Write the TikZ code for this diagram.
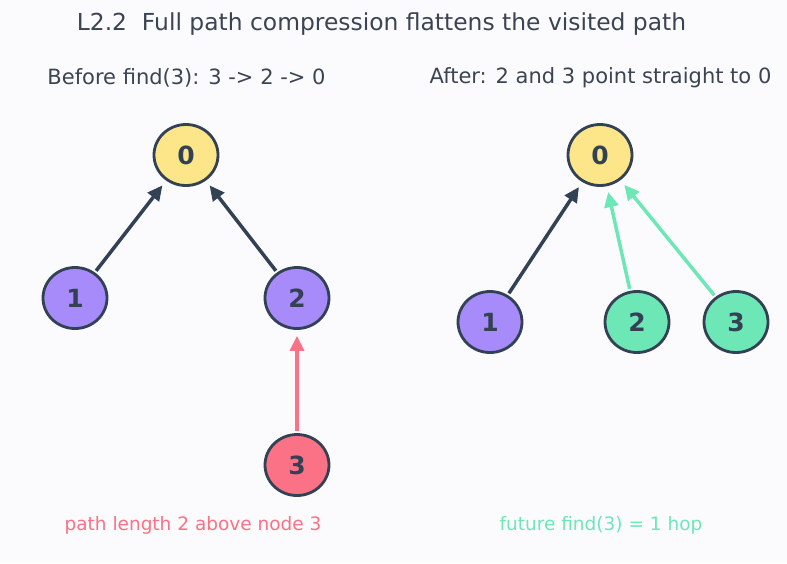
\documentclass[tikz,border=0pt]{standalone}
\usepackage{fontspec}
\setmainfont{DejaVu Sans}
\usetikzlibrary{arrows.meta,shapes.geometric}
\definecolor{bg}{HTML}{FBFBFD}
\definecolor{ink}{HTML}{334155}
\definecolor{txt}{HTML}{3B4452}
\definecolor{yel}{HTML}{FDE68A}
\definecolor{pur}{HTML}{A78BFA}
\definecolor{grn}{HTML}{6EE7B7}
\definecolor{rose}{HTML}{FB7185}
\tikzset{
  vnode/.style={ellipse, draw=ink, line width=2.8pt, minimum width=64pt, minimum height=61pt, inner sep=0pt, font=\fontsize{25}{27}\selectfont\bfseries, text=ink},
  link/.style={line width=3.5pt, shorten <=2pt, shorten >=6pt, -{Triangle[length=15pt,width=14pt]}},
  heading/.style={font=\fontsize{23.4}{26}\selectfont, text=txt},
  sub/.style={font=\fontsize{21}{24}\selectfont, text=txt},
  note/.style={font=\fontsize{18.5}{21}\selectfont},
}
\begin{document}
\begin{tikzpicture}[x=1pt,y=-1pt]
\fill[bg] (0,0) rectangle (787,563);
\useasboundingbox (0,0) rectangle (787,563);
\node[heading] (title) at (381.5,24) {L2.2\ \ Full path compression flattens the visited path};
\node[sub] (lsub) at (186.5,78) {Before find(3): 3 -> 2 -> 0};
\node[sub] (rsub) at (600.5,78) {After: 2 and 3 point straight to 0};
% left
\node[vnode, fill=yel] (a0) at (186,155) {0};
\node[vnode, fill=pur] (a1) at (75,298) {1};
\node[vnode, fill=pur] (a2) at (297,298) {2};
\node[vnode, fill=rose] (a3) at (297,465) {3};
\draw[link, ink] (a1) -- (a0);
\draw[link, ink] (a2) -- (a0);
\draw[link, rose] (a3) -- (a2);
% right
\node[vnode, fill=yel] (b0) at (600,155) {0};
\node[vnode, fill=pur] (b1) at (490,322) {1};
\node[vnode, fill=grn] (b2) at (637,322) {2};
\node[vnode, fill=grn] (b3) at (736,322) {3};
\draw[link, ink] (b1) -- (b0);
\draw[link, grn] (b2) -- (b0);
\draw[link, grn] (b3) -- (b0);
\node[note, text=rose] (lnote) at (193,525) {path length 2 above node 3};
\node[note, text=grn] (rnote) at (601,525) {future find(3) = 1 hop};
\end{tikzpicture}
\end{document}
